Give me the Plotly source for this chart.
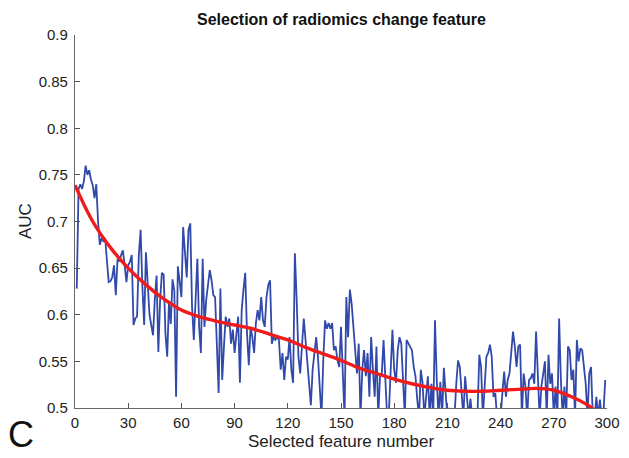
import plotly.graph_objects as go

# Blue curve: AUC for each selected feature number (values below 0.5 are clipped by the axis)
auc_001_064 = [0.628, 0.735, 0.740, 0.735, 0.743, 0.760, 0.750, 0.755, 0.745, 0.739,
               0.725, 0.740, 0.700, 0.675, 0.682, 0.679, 0.682, 0.660, 0.635, 0.636,
               0.640, 0.653, 0.621, 0.660, 0.657, 0.664, 0.669, 0.653, 0.635, 0.653,
               0.657, 0.664, 0.589, 0.596, 0.598, 0.664, 0.691, 0.630, 0.589, 0.667,
               0.630, 0.600, 0.589, 0.578, 0.616, 0.642, 0.560, 0.616, 0.645, 0.643,
               0.580, 0.555, 0.615, 0.590, 0.638, 0.626, 0.512, 0.652, 0.636, 0.619,
               0.694, 0.660, 0.640, 0.691]
auc_065_137 = [0.698, 0.609, 0.573, 0.616, 0.660, 0.587, 0.559, 0.660, 0.587, 0.616,
               0.634, 0.648, 0.637, 0.621, 0.619, 0.566, 0.516, 0.628, 0.530, 0.566,
               0.598, 0.587, 0.596, 0.569, 0.584, 0.559, 0.580, 0.598, 0.527, 0.605,
               0.627, 0.645, 0.580, 0.546, 0.587, 0.576, 0.559, 0.591, 0.605, 0.594,
               0.619, 0.594, 0.587, 0.619, 0.632, 0.637, 0.569, 0.576, 0.573, 0.576,
               0.573, 0.541, 0.559, 0.530, 0.555, 0.552, 0.576, 0.541, 0.527, 0.666,
               0.616, 0.555, 0.537, 0.573, 0.596, 0.573, 0.552, 0.527, 0.503, 0.541,
               0.559, 0.576, 0.555]
auc_138_197 = [0.527, 0.490, 0.551, 0.594, 0.585, 0.591, 0.585, 0.591, 0.562, 0.566,
               0.551, 0.544, 0.587, 0.527, 0.490, 0.619, 0.576, 0.627, 0.612, 0.587,
               0.562, 0.537, 0.569, 0.490, 0.541, 0.562, 0.534, 0.559, 0.512, 0.576,
               0.541, 0.512, 0.566, 0.490, 0.534, 0.537, 0.573, 0.534, 0.490, 0.495,
               0.548, 0.584, 0.541, 0.527, 0.562, 0.576, 0.569, 0.534, 0.490, 0.573,
               0.569, 0.566, 0.562, 0.544, 0.534, 0.509, 0.490, 0.541, 0.527, 0.490]
auc_198_247 = [0.512, 0.534, 0.490, 0.526, 0.490, 0.594, 0.530, 0.490, 0.528, 0.490,
               0.543, 0.510, 0.490, 0.500, 0.490, 0.490, 0.490, 0.526, 0.551, 0.544,
               0.512, 0.490, 0.534, 0.516, 0.490, 0.510, 0.490, 0.490, 0.490, 0.495,
               0.557, 0.544, 0.490, 0.523, 0.555, 0.559, 0.568, 0.555, 0.512, 0.516,
               0.490, 0.490, 0.490, 0.516, 0.539, 0.512, 0.530, 0.537, 0.559, 0.582]
auc_248_299 = [0.566, 0.544, 0.566, 0.568, 0.490, 0.537, 0.523, 0.490, 0.530, 0.532,
               0.537, 0.526, 0.582, 0.530, 0.490, 0.523, 0.537, 0.550, 0.490, 0.557,
               0.526, 0.537, 0.490, 0.523, 0.490, 0.596, 0.530, 0.490, 0.523, 0.490,
               0.566, 0.562, 0.530, 0.541, 0.490, 0.573, 0.550, 0.564, 0.562, 0.544,
               0.526, 0.490, 0.537, 0.544, 0.490, 0.490, 0.512, 0.490, 0.509, 0.490,
               0.495, 0.530]

auc = auc_001_064 + auc_065_137 + auc_138_197 + auc_198_247 + auc_248_299
feature_number = list(range(1, len(auc) + 1))

# Red curve: smoothed fit
fit_x = [0, 10, 20, 30, 40, 50, 60, 70, 80, 90, 100, 110, 120, 130, 140, 150,
         160, 170, 180, 190, 200, 210, 220, 230, 240, 250, 260, 270, 280, 290, 300]
fit_auc = [0.739, 0.700, 0.672, 0.650, 0.632, 0.617, 0.605, 0.598, 0.593, 0.589,
           0.585, 0.579, 0.573, 0.565, 0.558, 0.551, 0.543, 0.537, 0.531, 0.526,
           0.522, 0.519, 0.518, 0.518, 0.519, 0.520, 0.521, 0.519, 0.512, 0.502, 0.485]

x_ticks = [0, 30, 60, 90, 120, 150, 180, 210, 240, 270, 300]
y_ticks = [0.5, 0.55, 0.6, 0.65, 0.7, 0.75, 0.8, 0.85, 0.9]
y_tick_labels = ["0.5", "0.55", "0.6", "0.65", "0.7", "0.75", "0.8", "0.85", "0.9"]

font_family = "Liberation Sans, Arial, Helvetica, sans-serif"

# The page body has an 8px default margin, so the figure is drawn offset by 8px;
# size and margins are compensated so the plot lands where the reference has it.
OFF = 8
VW, VH = 629, 458
W, H = VW - OFF, VH - OFF
PL, PR, PT, PB = 75, 607, 35, 408           # plot area in window pixels
ML, MR, MT, MB = PL - OFF, W - (PR - OFF), PT - OFF, H - (PB - OFF)
PW, PH = W - ML - MR, H - MT - MB


def px_to_paper(px, py):
    fx, fy = px - OFF, py - OFF
    return (fx - ML) / PW, (H - MB - fy) / PH


fig = go.Figure()
fig.add_trace(go.Scatter(x=feature_number, y=auc, mode="lines",
                         line=dict(color="#3149aa", width=1.8), showlegend=False))
fig.add_trace(go.Scatter(x=fit_x, y=fit_auc, mode="lines",
                         line=dict(color="#f01c1c", width=3.4, shape="spline", smoothing=1.0),
                         showlegend=False))

cx, cy = px_to_paper(21, 434)
xtx, xty = px_to_paper(341, 441)
ytx, yty = px_to_paper(25, 221)
ttx, tty = px_to_paper(341, 20)

fig.update_layout(
    width=W, height=H,
    margin=dict(l=ML, r=MR, t=MT, b=MB, autoexpand=False),
    paper_bgcolor="white", plot_bgcolor="white",
    font=dict(family=font_family, color="#222222", size=15),
    xaxis=dict(range=[0, 300], tickvals=x_ticks, ticks="inside", ticklen=5,
               tickcolor="#555555", showline=True, linecolor="#666666", linewidth=1.2,
               showgrid=False, zeroline=False, ticklabelstandoff=1,
               tickfont=dict(size=15, color="#222222")),
    yaxis=dict(range=[0.5, 0.9], tickvals=y_ticks, ticktext=y_tick_labels,
               ticks="inside", ticklen=5, tickcolor="#555555",
               showline=True, linecolor="#666666", linewidth=1.2,
               showgrid=False, zeroline=False, ticklabelstandoff=3,
               tickfont=dict(size=15, color="#222222")),
    annotations=[
        dict(text="<b>Selection of radiomics change feature</b>", x=ttx, y=tty,
             xref="paper", yref="paper", showarrow=False,
             xanchor="center", yanchor="middle",
             font=dict(size=16, color="#111111", family=font_family)),
        dict(text="C", x=cx, y=cy, xref="paper", yref="paper",
             showarrow=False, xanchor="center", yanchor="middle",
             font=dict(size=36, color="#111111", family=font_family)),
        dict(text="Selected feature number", x=xtx, y=xty, xref="paper", yref="paper",
             showarrow=False, xanchor="center", yanchor="middle",
             font=dict(size=17, color="#222222", family=font_family)),
        dict(text="AUC", x=ytx, y=yty, xref="paper", yref="paper", textangle=-90,
             showarrow=False, xanchor="center", yanchor="middle",
             font=dict(size=17, color="#222222", family=font_family)),
    ],
)

fig.write_html("out.html")
